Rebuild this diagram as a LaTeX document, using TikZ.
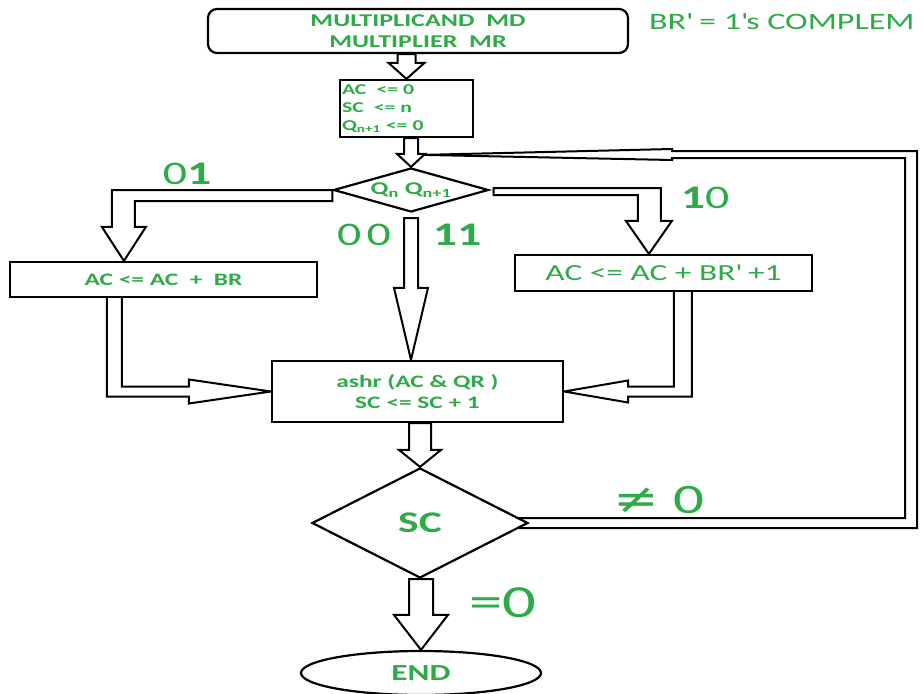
\documentclass[tikz,border=0pt]{standalone}
\usepackage{fontspec}
\setmainfont{Carlito}[FakeStretch=1.45]
\newfontfamily\symfont{DejaVu Sans}[FakeStretch=1.3]
\usetikzlibrary{shapes.geometric,calc,backgrounds}
\definecolor{lblgreen}{RGB}{46,170,72}

% vertical block arrow: #1 start, #2 tip, #3 shaft half width, #4 head half width, #5 head length
\newcommand{\downblock}[5]{%
  \draw[blockarrow] ($(#2|-#1)+(-#3,0)$) -- ($(#2)+(-#3,-#5)$) -- ($(#2)+(-#4,-#5)$)
    -- (#2) -- ($(#2)+(#4,-#5)$) -- ($(#2)+(#3,-#5)$) -- ($(#2|-#1)+(#3,0)$) -- cycle;}

\begin{document}
\begin{tikzpicture}[x=1pt,y=-1pt,
  box/.style={draw,line width=2.2pt,fill=white,inner sep=0pt,text=lblgreen,align=center},
  blockarrow/.style={draw,line width=2pt,fill=white,line join=miter},
  loopline/.style={draw,line width=2pt,line join=miter},
  lbl/.style={text=lblgreen,inner sep=0pt}]
\useasboundingbox (0,0) rectangle (923,693);

% process boxes and decisions
\node[box,rounded corners=9pt,minimum width=420pt,minimum height=44pt,
      font=\bfseries\fontsize{18}{21}\selectfont] (start) at (418,31)
      {MULTIPLICAND\ \ MD\\MULTIPLIER\ \ MR};
\node[box,minimum width=133pt,minimum height=57pt,align=left,text width=129pt,
      font=\bfseries\fontsize{15}{18}\selectfont] (init) at (406.5,108.5)
      {AC\ \ <= 0\\SC\ \ <= n\\Q\textsubscript{n+1} <= 0};
\node[box,shape=diamond,aspect=3.6,minimum width=155pt,minimum height=44pt,
      font=\bfseries\fontsize{18}{20}\selectfont] (q) at (411,190)
      {Q\textsubscript{n} Q\textsubscript{n+1}};
\node[box,minimum width=307pt,minimum height=35pt,
      font=\bfseries\fontsize{17.5}{19}\selectfont] (brbox) at (163.5,279.5)
      {AC <= AC\ \ +\ \ BR};
\node[box,minimum width=297pt,minimum height=36pt,
      font=\fontsize{23}{25}\selectfont] (br2) at (663.5,273)
      {AC <= AC + BR\textquotesingle{} +1};
\node[box,minimum width=291pt,minimum height=61pt,
      font=\bfseries\fontsize{17.5}{21}\selectfont] (ashr) at (417.5,391.5)
      {ashr (AC \& QR )\\SC <= SC + 1};
\node[box,shape=diamond,aspect=1.93,minimum width=216pt,minimum height=110pt,
      font=\bfseries\fontsize{30}{32}\selectfont] (sc) at (420,523) {SC};
\node[box,shape=ellipse,minimum width=240pt,minimum height=44pt,
      font=\bfseries\fontsize{23}{25}\selectfont] (end) at (421,673) {END};

% notes and branch labels
\node[lbl,anchor=west,font=\fontsize{23.5}{26}\selectfont] (note) at (649,22)
      {BR\textquotesingle{} = 1\textquotesingle{}s COMPLEM};
\node[lbl,font=\fontsize{33}{33}\selectfont] (l01) at (187,174) {0\textbf{1}};
\node[lbl,font=\fontsize{33}{33}\selectfont] (l00) at (364,235) {0\,0};
\node[lbl,font=\fontsize{33}{33}\selectfont] (l11) at (457,235) {\textbf{11}};
\node[lbl,font=\fontsize{33}{33}\selectfont] (l10) at (705,198) {\textbf{1}0};
\node[lbl,font=\fontsize{42}{42}\selectfont] (lne) at (659,500) {{\symfont ≠} 0};
\node[lbl,font=\fontsize{46}{46}\selectfont] (leq) at (503,603) {=0};

\begin{pgfonlayer}{background}
% straight block arrows
\downblock{start.south}{init.north}{9}{18}{16}
\downblock{init.south}{q.north}{7}{14}{13}
\coordinate (mtop) at ($(q.south)+(0,5)$);
\coordinate (mtip) at (q.south|-ashr.north);
\downblock{mtop}{mtip}{7}{17}{72}
\downblock{ashr.south}{sc.north}{11}{21}{17}
\downblock{sc.south}{end.north}{12}{27}{35}

% branch 01 to the left box
\coordinate (ltip) at ($(brbox.north west)+(115,0)$);
\draw[blockarrow] (q.west) -- ($(q.west-|ltip)+(-12,0)$) -- ($(ltip)+(-12,-34)$)
  -- ($(ltip)+(-22,-34)$) -- (ltip) -- ($(ltip)+(22,-34)$) -- ($(ltip)+(11,-34)$)
  -- ($(q.west-|ltip)+(11,11)$) -- ($(q.west)+(0,11)$) -- cycle;

% branch 10 to the right box
\coordinate (rtip) at ($(br2.north west)+(135,0)$);
\draw[blockarrow] ($(q.east)+(4,-2)$) -- ($(rtip|-q.east)+(12,-2)$) -- ($(rtip)+(12,-33)$)
  -- ($(rtip)+(23,-33)$) -- (rtip) -- ($(rtip)+(-23,-33)$) -- ($(rtip)+(-11,-33)$)
  -- ($(rtip|-q.east)+(-11,5)$) -- ($(q.east)+(4,5)$) -- cycle;

% left box into the shift box
\coordinate (lb) at ($(brbox.south west)+(98,0)$);
\draw[blockarrow] (lb) -- ($(lb|-ashr.west)+(0,5)$) -- ($(ashr.west)+(-82,5)$)
  -- ($(ashr.west)+(-82,12)$) -- (ashr.west) -- ($(ashr.west)+(-82,-12)$)
  -- ($(ashr.west)+(-82,-5)$) -- ($(lb|-ashr.west)+(15,-5)$) -- ($(lb)+(15,0)$);

% right box into the shift box
\coordinate (rb) at ($(br2.south west)+(178,0)$);
\draw[blockarrow] (rb) -- ($(rb|-ashr.east)+(0,5)$) -- ($(ashr.east)+(64,5)$)
  -- ($(ashr.east)+(64,11)$) -- (ashr.east) -- ($(ashr.east)+(64,-11)$)
  -- ($(ashr.east)+(64,-5)$) -- ($(rb|-ashr.east)+(-18,-5)$) -- ($(rb)+(-18,0)$);

% loop back while SC is not zero
\coordinate (lp) at ($(q.north)+(12,-12)$);
\coordinate (loopR) at (911,155);
\coordinate (loopK) at (672,155);
\draw[loopline] ($(sc.east)+(-10,-5)$) -- ($(loopR|-sc.east)+(-6,-5)$) -- ($(loopR)+(-6,3)$)
  -- ($(loopK)+(0,3)$) -- ($(loopK)+(0,5)$) -- (lp);
\draw[loopline] ($(sc.east)+(-10,5)$) -- ($(loopR|-sc.east)+(6,5)$) -- ($(loopR)+(6,-4)$)
  -- ($(loopK)+(0,-4)$) -- ($(loopK)+(0,-6)$) -- (lp);
\end{pgfonlayer}
\end{tikzpicture}
\end{document}
